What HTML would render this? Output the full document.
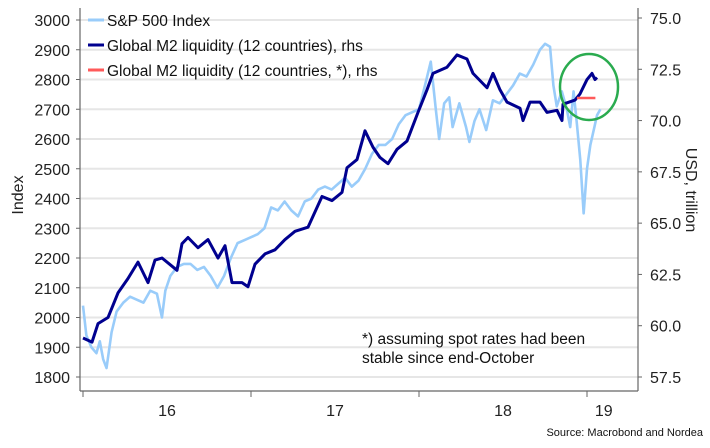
<!DOCTYPE html>
<html><head><meta charset="utf-8"><style>
body{margin:0;background:#fff;}
svg{display:block;font-family:"Liberation Sans",sans-serif;}
</style></head><body>
<svg id="c" width="710" height="448"></svg>
<script>
const spDates=[0,0.02,0.05,0.08,0.10,0.12,0.14,0.17,0.20,0.24,0.28,0.32,0.36,0.40,0.44,0.47,0.49,0.52,0.56,0.60,0.64,0.68,0.72,0.76,0.80,0.84,0.88,0.92,0.96,1.00,1.04,1.08,1.12,1.16,1.20,1.24,1.28,1.32,1.36,1.40,1.44,1.48,1.52,1.56,1.60,1.64,1.68,1.72,1.76,1.80,1.84,1.88,1.92,1.96,2.00,2.04,2.07,2.10,2.12,2.15,2.18,2.20,2.24,2.28,2.30,2.33,2.36,2.40,2.44,2.48,2.52,2.56,2.60,2.64,2.68,2.72,2.75,2.78,2.80,2.82,2.85,2.88,2.90,2.92,2.94,2.96,2.98,3.00,3.02,3.06,3.08];
const spValues=[2040,1940,1900,1880,1920,1860,1830,1950,2020,2050,2070,2060,2050,2090,2080,2000,2090,2140,2170,2180,2180,2160,2170,2140,2100,2140,2200,2250,2260,2270,2280,2300,2370,2360,2390,2360,2340,2390,2400,2430,2440,2430,2450,2470,2440,2460,2500,2550,2580,2580,2600,2650,2680,2690,2700,2790,2860,2700,2600,2720,2740,2640,2720,2640,2590,2660,2700,2630,2730,2720,2750,2780,2820,2810,2850,2900,2920,2910,2780,2710,2760,2700,2640,2760,2650,2530,2350,2500,2580,2680,2700];
const m2Px=[83,92,98,108,118,128,138,148,155,162,172,177,182,188,198,208,218,225,232,242,248,255,265,275,285,295,308,322,332,342,347,357,365,373,380,388,397,407,418,427,433,447,457,467,473,487,493,500,507,520,523,530,540,547,557,562,563,575,580,587,592,595,597];
const m2Dates=m2Px.map(p=>(p-83)/168);
const m2Values=[59.4,59.2,60.1,60.4,61.6,62.3,63.1,62.1,63.2,63.3,62.9,62.7,64.0,64.3,63.8,64.2,63.3,63.9,62.1,62.1,61.9,63.0,63.5,63.7,64.2,64.6,64.8,66.3,66.1,66.5,67.7,68.1,69.5,68.7,68.2,67.9,68.6,69.0,70.4,71.5,72.3,72.6,73.2,73.0,72.3,71.6,72.3,71.5,70.9,70.6,70.0,70.9,70.9,70.4,70.5,70.0,70.8,71.0,71.3,72.0,72.3,72.0,72.1];
const redDates=[2.94,3.05];
const redValues=[71.1,71.1];
const leftTicks=[1800,1900,2000,2100,2200,2300,2400,2500,2600,2700,2800,2900,3000];
const rightTicks=[57.5,60.0,62.5,65.0,67.5,70.0,72.5,75.0];
const yearLabels=["16","17","18","19"];
const yearPos=[0.5,1.5,2.5,3.1];

const X=t=>83+t*168;
const YL=v=>377-(v-1800)*0.2975;
const YR=v=>18+(75-v)*20.514;
const svg=document.getElementById('c');
const NS='http://www.w3.org/2000/svg';
function mk(tag,attrs,parent){const e=document.createElementNS(NS,tag);for(const k in attrs)e.setAttribute(k,attrs[k]);(parent||svg).appendChild(e);return e;}

leftTicks.forEach(v=>{
  const g=mk('line',{x1:80,x2:638,y1:YL(v),y2:YL(v),stroke:'#e6e6e6','stroke-width':2});
  
  
  const t=mk('text',{x:70,y:YL(v)+6,'text-anchor':'end','font-size':16,fill:'#222'});
  t.textContent=v;
  
  
  mk('line',{x1:76,x2:80,y1:YL(v),y2:YL(v),stroke:'#666'});
});
rightTicks.forEach(v=>{
  const t=mk('text',{x:650,y:YR(v)+6,'font-size':16,fill:'#222'});
  t.textContent=v.toFixed(1);
  
  
  mk('line',{x1:638,x2:642,y1:YR(v),y2:YR(v),stroke:'#666'});
});
mk('line',{x1:80,x2:80,y1:8,y2:391,stroke:'#666','stroke-width':1.2});
mk('line',{x1:638,x2:638,y1:8,y2:391,stroke:'#666','stroke-width':1.2});
mk('line',{x1:80,x2:638,y1:391,y2:391,stroke:'#666','stroke-width':1.2});
[0,1,2,3].forEach(i=>mk('line',{x1:X(i),x2:X(i),y1:391,y2:397,stroke:'#666'}));
yearLabels.forEach((l,i)=>{
  const t=mk('text',{x:X(yearPos[i]),y:416,'text-anchor':'middle','font-size':16,fill:'#222'});
  t.textContent=l;
  
  
});

const sp=mk('polyline',{points:spDates.map((d,i)=>X(d)+','+YL(spValues[i])).join(' '),fill:'none',stroke:'#99ccfa','stroke-width':2.6,'stroke-linejoin':'round'});


const m2=mk('polyline',{points:m2Dates.map((d,i)=>X(d)+','+YR(m2Values[i])).join(' '),fill:'none',stroke:'#00008f','stroke-width':3,'stroke-linejoin':'round'});


const rd=mk('polyline',{points:redDates.map((d,i)=>X(d)+','+YR(redValues[i])).join(' '),fill:'none',stroke:'#ff5a5a','stroke-width':2.6});


const circ=mk('ellipse',{cx:589,cy:87,rx:29,ry:33,fill:'none',stroke:'#2aab4f','stroke-width':2.5});



const leg=[['#99ccfa','S&P 500 Index',20],['#00008f','Global M2 liquidity (12 countries), rhs',45],['#ff5a5a','Global M2 liquidity (12 countries, *), rhs',70]];
leg.forEach(([c,l,y])=>{
  const g=mk('g',{});
  
  
  mk('line',{x1:88,x2:104,y1:y,y2:y,stroke:c,'stroke-width':3},g);
  const t=mk('text',{x:107,y:y+6,'font-size':15.5,fill:'#111'},g);t.textContent=l;
});
const a1=mk('text',{x:362,y:344,'font-size':15.5,fill:'#111'});a1.textContent='*) assuming spot rates had been';

const a2=mk('text',{x:362,y:363,'font-size':15.5,fill:'#111'});a2.textContent='stable since end-October';

const yl=mk('text',{x:0,y:0,'font-size':16,fill:'#222','text-anchor':'middle',transform:'translate(23,195) rotate(-90)'});yl.textContent='Index';

const yr=mk('text',{x:0,y:0,'font-size':16,fill:'#222','text-anchor':'middle',transform:'translate(686,190) rotate(90)'});yr.textContent='USD, trillion';

const src=mk('text',{x:703,y:436,'font-size':11,fill:'#111','text-anchor':'end'});src.textContent='Source: Macrobond and Nordea';

</script>
</body></html>
